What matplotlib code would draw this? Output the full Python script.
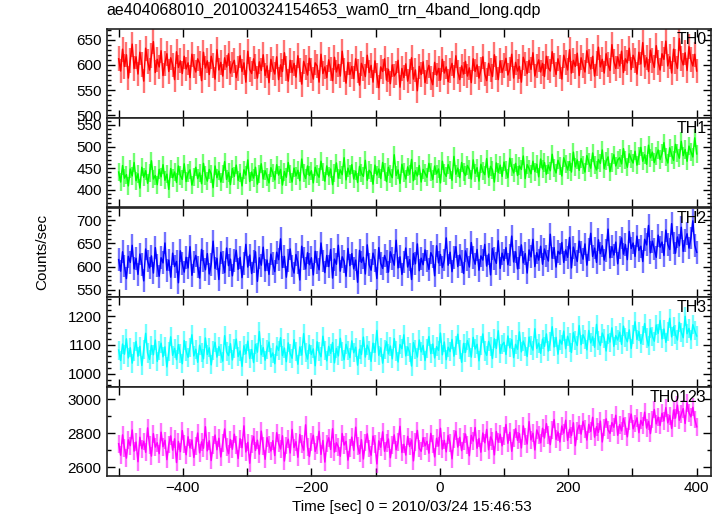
import numpy as np
import matplotlib
matplotlib.use("Agg")
import matplotlib.pyplot as plt
from matplotlib.ticker import MultipleLocator

plt.rcParams['font.family'] = ['Liberation Sans', 'DejaVu Sans']

title = "ae404068010_20100324154653_wam0_trn_4band_long.qdp"
xlabel = "Time [sec] 0 = 2010/03/24 15:46:53"
ylabel = "Counts/sec"
panel_names = ["TH0", "TH1", "TH2", "TH3", "TH0123"]
panel_colors = ["#ff0000", "#00ff00", "#0000ff", "#00ffff", "#ff00ff"]

t_start = -500.0
bin_width = 3.0

th0 = [612, 588, 631, 597, 620, 574, 609, 641, 593, 616, 582, 625, 601, 568, 633, 607, 590, 619, 646, 585,
       611, 596, 628, 579, 603, 622, 587, 614, 600, 571, 626, 595, 608, 583, 617, 592, 604, 575, 621, 598,
       586, 612, 603, 569, 625, 594, 608, 581, 617, 599, 572, 630, 590, 605, 578, 614, 596, 622, 584, 601,
       609, 575, 593, 618, 587, 604, 566, 627, 591, 583, 612, 597, 574, 606, 589, 620, 579, 598, 565, 611,
       594, 582, 616, 571, 600, 587, 624, 593, 568, 609, 585, 603, 576, 618, 590, 562, 607, 595, 580, 613,
       589, 572, 604, 598, 566, 621, 583, 596, 575, 610, 592, 569, 615, 586, 601, 578, 627, 590, 564, 605,
       581, 597, 573, 612, 588, 560, 603, 592, 577, 619, 585, 599, 566, 608, 579, 555, 596, 587, 612, 570,
       591, 563, 600, 578, 584, 609, 556, 593, 575, 602, 568, 587, 614, 572, 590, 549, 597, 581, 606, 565,
       586, 599, 574, 561, 605, 580, 593, 570, 611, 584, 596, 567, 589, 603, 575, 618, 586, 571, 598, 582,
       607, 578, 594, 565, 612, 587, 600, 574, 591, 616, 582, 569, 603, 590, 577, 620, 594, 571, 608, 585,
       599, 613, 580, 592, 621, 574, 605, 588, 597, 566, 615, 602, 583, 609, 591, 624, 578, 598, 610, 586,
       603, 577, 617, 594, 588, 626, 600, 581, 612, 596, 572, 619, 605, 590, 630, 584, 609, 597, 623, 579,
       614, 599, 586, 628, 606, 592, 617, 578, 603, 635, 596, 611, 584, 622, 601, 589, 640, 607, 593, 616,
       598, 627, 585, 612, 604, 633, 591, 619, 608, 582, 625, 602, 644, 596, 614, 587, 629, 609, 595, 638,
       605, 590, 622, 611, 647, 598, 616, 584, 631, 607, 593, 652, 612, 600, 624, 589, 636, 610, 598, 621,
       588]

th1 = [441, 418, 456, 427, 435, 409, 448, 432, 463, 421, 437, 404, 452, 429, 444, 415, 438, 467, 425, 433,
       412, 447, 430, 458, 422, 436, 401, 449, 428, 441, 417, 455, 433, 424, 460, 419, 438, 446, 411, 430,
       452, 426, 439, 414, 461, 433, 420, 447, 437, 405, 455, 428, 443, 418, 436, 465, 424, 440, 412, 449,
       431, 457, 422, 438, 409, 446, 434, 469, 419, 441, 427, 452, 413, 437, 460, 425, 444, 430, 416, 451,
       439, 423, 458, 434, 447, 411, 442, 429, 463, 436, 418, 450, 432, 445, 421, 471, 438, 426, 455, 433,
       444, 416, 452, 437, 429, 466, 441, 420, 455, 432, 448, 412, 439, 462, 427, 446, 435, 474, 423, 450,
       436, 458, 425, 443, 417, 454, 438, 431, 468, 422, 445, 439, 413, 457, 434, 448, 426, 463, 441, 419,
       452, 437, 428, 481, 433, 446, 415, 459, 440, 425, 453, 436, 470, 421, 444, 432, 456, 418, 447, 438,
       429, 461, 442, 424, 455, 437, 448, 416, 466, 439, 431, 458, 445, 422, 477, 436, 450, 428, 463, 441,
       433, 456, 447, 425, 469, 438, 451, 420, 459, 443, 435, 472, 429, 454, 446, 418, 462, 440, 457, 431,
       464, 445, 428, 473, 452, 439, 461, 433, 455, 447, 478, 426, 458, 449, 437, 466, 442, 459, 430, 471,
       448, 463, 436, 457, 444, 482, 451, 439, 468, 455, 432, 474, 460, 446, 465, 441, 487, 453, 469, 445,
       472, 458, 441, 479, 463, 450, 485, 457, 446, 470, 461, 492, 449, 466, 476, 442, 463, 481, 455, 469,
       474, 460, 495, 468, 452, 483, 471, 462, 489, 457, 478, 498, 466, 481, 459, 503, 474, 487, 463, 479,
       492, 470, 484, 509, 475, 462, 497, 481, 468, 505, 486, 473, 512, 479, 493, 466, 501, 488, 476, 520,
       483]

th2 = [615, 590, 632, 601, 574, 622, 609, 646, 595, 618, 583, 627, 604, 569, 638, 612, 597, 623, 586, 641,
       603, 579, 619, 608, 651, 592, 614, 577, 629, 600, 611, 565, 634, 606, 588, 620, 597, 643, 581, 610,
       624, 599, 575, 637, 612, 593, 628, 584, 605, 655, 596, 618, 572, 631, 609, 587, 640, 602, 616, 580,
       613, 635, 594, 620, 576, 607, 648, 599, 625, 585, 611, 632, 568, 619, 603, 642, 591, 614, 583, 627,
       606, 589, 631, 615, 660, 598, 622, 577, 613, 638, 601, 586, 626, 609, 571, 644, 617, 595, 630, 604,
       619, 582, 633, 608, 593, 651, 612, 587, 624, 600, 637, 575, 616, 605, 646, 590, 621, 611, 579, 639,
       602, 628, 595, 614, 566, 635, 609, 620, 584, 647, 604, 592, 629, 613, 574, 641, 607, 596, 624, 611,
       588, 632, 617, 603, 657, 597, 621, 583, 610, 640, 599, 615, 572, 628, 606, 649, 591, 618, 604, 636,
       612, 594, 630, 621, 580, 645, 608, 626, 598, 614, 662, 603, 631, 589, 619, 643, 600, 625, 611, 585,
       634, 616, 599, 652, 620, 605, 637, 592, 623, 614, 648, 601, 627, 582, 639, 618, 607, 656, 596, 629,
       613, 641, 604, 625, 666, 610, 632, 595, 619, 647, 608, 628, 586, 636, 621, 659, 600, 630, 614, 644,
       605, 638, 623, 612, 670, 618, 641, 599, 633, 627, 652, 609, 636, 620, 663, 597, 642, 626, 611, 655,
       631, 616, 649, 603, 637, 672, 622, 640, 609, 658, 628, 645, 614, 634, 681, 619, 643, 625, 653, 606,
       641, 662, 627, 648, 615, 676, 639, 651, 622, 666, 635, 644, 611, 659, 647, 689, 630, 655, 638, 620,
       668, 642, 653, 624, 679, 648, 637, 693, 651, 629, 664, 645, 685, 633, 657, 671, 640, 662, 699, 646,
       631]

th3 = [1082, 1046, 1103, 1068, 1121, 1055, 1090, 1037, 1078, 1112, 1061, 1095, 1029, 1084, 1140, 1072, 1050, 1098, 1066, 1117,
       1043, 1081, 1106, 1059, 1093, 1024, 1076, 1128, 1064, 1088, 1049, 1101, 1070, 1035, 1115, 1079, 1057, 1092, 1135, 1062,
       1085, 1040, 1099, 1073, 1052, 1124, 1067, 1090, 1031, 1080, 1109, 1058, 1094, 1071, 1044, 1132, 1076, 1063, 1104, 1048,
       1087, 1120, 1060, 1079, 1026, 1097, 1069, 1113, 1053, 1084, 1039, 1102, 1075, 1146, 1066, 1091, 1047, 1083, 1110, 1058,
       1072, 1035, 1096, 1081, 1125, 1063, 1089, 1042, 1107, 1070, 1054, 1118, 1078, 1033, 1093, 1065, 1139, 1074, 1051, 1100,
       1067, 1086, 1028, 1111, 1076, 1059, 1130, 1082, 1045, 1095, 1071, 1108, 1038, 1088, 1062, 1123, 1077, 1049, 1102, 1080,
       1056, 1114, 1073, 1092, 1030, 1085, 1067, 1127, 1058, 1099, 1081, 1043, 1106, 1074, 1150, 1064, 1090, 1037, 1083, 1111,
       1069, 1096, 1052, 1122, 1079, 1041, 1101, 1087, 1135, 1062, 1093, 1074, 1027, 1108, 1084, 1058, 1117, 1076, 1098, 1046,
       1089, 1129, 1070, 1103, 1055, 1094, 1081, 1141, 1066, 1110, 1049, 1092, 1077, 1119, 1061, 1098, 1137, 1083, 1040, 1105,
       1074, 1115, 1091, 1058, 1126, 1086, 1102, 1045, 1097, 1138, 1079, 1064, 1112, 1093, 1053, 1121, 1088, 1149, 1071, 1100,
       1109, 1067, 1131, 1090, 1118, 1056, 1102, 1085, 1145, 1076, 1113, 1094, 1060, 1127, 1099, 1082, 1156, 1088, 1106, 1071,
       1120, 1095, 1138, 1079, 1111, 1163, 1093, 1126, 1068, 1117, 1103, 1148, 1087, 1130, 1108, 1074, 1142, 1114, 1098, 1167,
       1101, 1135, 1119, 1083, 1150, 1107, 1128, 1092, 1171, 1116, 1098, 1141, 1123, 1079, 1136, 1110, 1159, 1095, 1132, 1117,
       1144, 1102, 1165, 1127, 1111, 1152, 1088, 1137, 1180, 1119, 1146, 1105, 1133, 1174, 1124, 1097, 1158, 1130, 1113, 1169,
       1140, 1185, 1121, 1155, 1109, 1147, 1192, 1128, 1163, 1136, 1117, 1178, 1144, 1125, 1199, 1139, 1157, 1118, 1170, 1149,
       1131]

th0123 = [2738, 2671, 2790, 2712, 2654, 2761, 2727, 2819, 2695, 2748, 2633, 2776, 2709, 2752, 2688, 2831, 2730, 2666, 2797, 2719,
          2744, 2680, 2806, 2721, 2758, 2645, 2733, 2784, 2701, 2767, 2628, 2751, 2692, 2815, 2736, 2674, 2779, 2714, 2760, 2658,
          2726, 2801, 2685, 2749, 2712, 2838, 2697, 2755, 2640, 2731, 2789, 2703, 2770, 2661, 2742, 2825, 2718, 2680, 2763, 2706,
          2794, 2729, 2652, 2768, 2715, 2843, 2690, 2746, 2624, 2737, 2781, 2699, 2759, 2677, 2812, 2723, 2647, 2774, 2734, 2696,
          2756, 2669, 2803, 2741, 2708, 2785, 2637, 2728, 2765, 2684, 2822, 2716, 2750, 2659, 2792, 2735, 2701, 2849, 2719, 2663,
          2747, 2788, 2693, 2732, 2811, 2676, 2757, 2631, 2739, 2773, 2705, 2826, 2689, 2744, 2720, 2665, 2798, 2731, 2752, 2642,
          2713, 2777, 2700, 2835, 2724, 2681, 2762, 2649, 2745, 2796, 2710, 2671, 2783, 2737, 2620, 2755, 2718, 2808, 2694, 2741,
          2766, 2656, 2729, 2790, 2703, 2747, 2840, 2687, 2735, 2672, 2781, 2722, 2760, 2638, 2749, 2816, 2711, 2694, 2773, 2726,
          2752, 2683, 2799, 2738, 2661, 2770, 2725, 2829, 2707, 2758, 2691, 2786, 2743, 2650, 2764, 2812, 2719, 2776, 2698, 2751,
          2795, 2730, 2668, 2787, 2754, 2833, 2712, 2769, 2689, 2801, 2744, 2822, 2703, 2778, 2756, 2673, 2810, 2747, 2794, 2726,
          2783, 2851, 2741, 2805, 2694, 2772, 2826, 2758, 2797, 2714, 2843, 2780, 2737, 2868, 2761, 2800, 2702, 2819, 2789, 2744,
          2829, 2772, 2856, 2791, 2733, 2818, 2880, 2764, 2807, 2749, 2842, 2801, 2876, 2758, 2823, 2786, 2861, 2727, 2815, 2847,
          2795, 2869, 2826, 2760, 2852, 2811, 2893, 2777, 2838, 2805, 2871, 2749, 2833, 2884, 2819, 2799, 2862, 2835, 2905, 2788,
          2850, 2814, 2887, 2841, 2779, 2868, 2912, 2826, 2857, 2890, 2803, 2875, 2846, 2923, 2830, 2869, 2798, 2881, 2939, 2855,
          2894, 2845, 2917, 2872, 2950, 2861, 2903, 2828, 2936, 2889, 2965, 2876, 2912, 2944, 2857, 2978, 2920, 2896, 2952, 2881,
          2838]

series = [th0, th1, th2, th3, th0123]
errors = [24.5, 21.0, 24.7, 33.0, 52.0]
ylims = [(495, 672), (359, 566), (534, 728), (956, 1266), (2549, 3074)]
ymajor = [50, 50, 50, 100, 200]
yminor = [10, 10, 10, 20, 100]
xlim = (-519, 421.5)

W, H = 722, 516
fig = plt.figure(figsize=(W / 100, H / 100), dpi=100)

left = 106.5 / W
width = 604 / W
panel_h = 89.5 / H
bottom0 = 40 / H

axes = []
for k in range(5):
    b = bottom0 + (4 - k) * panel_h
    ax = fig.add_axes([left, b, width, panel_h])
    axes.append(ax)
    y = np.array(series[k], dtype=float)
    t = t_start + bin_width * np.arange(len(y))
    col = panel_colors[k]
    ax.errorbar(t, y, yerr=errors[k], fmt='none', ecolor=col, elinewidth=1.7,
                alpha=0.55, capsize=0)
    ax.plot(t, y, color=col, lw=1.1)
    ax.set_xlim(*xlim)
    ax.set_ylim(*ylims[k])
    ax.yaxis.set_major_locator(MultipleLocator(ymajor[k]))
    ax.yaxis.set_minor_locator(MultipleLocator(yminor[k]))
    ax.xaxis.set_major_locator(MultipleLocator(200))
    ax.xaxis.set_minor_locator(MultipleLocator(100))
    ax.tick_params(axis='both', which='both', direction='in', top=True, right=True,
                   labelsize=11, colors='black', width=1.0)
    ax.tick_params(axis='y', which='major', length=6)
    ax.tick_params(axis='y', which='minor', length=3)
    ax.tick_params(axis='x', which='both', length=6)
    if k < 4:
        ax.tick_params(axis='x', labelbottom=False)
    for s in ax.spines.values():
        s.set_linewidth(1.2)
        s.set_color('#222222')
    ax.text(0.993, 0.965, panel_names[k], transform=ax.transAxes, ha='right', va='top',
            fontsize=11.5, color='black')

fig.text(106.5 / W, 1 - 3 / H, title, ha='left', va='top', fontsize=11.5)
fig.text(42 / W, 1 - 252 / H, ylabel, rotation=90, ha='center', va='center', fontsize=11)
fig.text(412 / W, 1 - 507 / H, xlabel, ha='center', va='center', fontsize=11)

fig.savefig("out.png", dpi=100)
